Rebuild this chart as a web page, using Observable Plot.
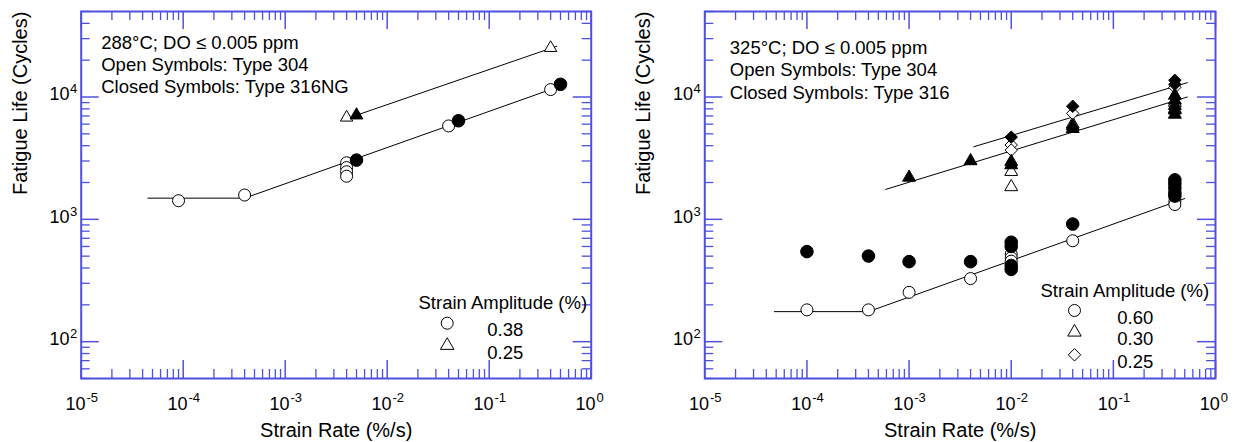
<!DOCTYPE html>
<html><head><meta charset="utf-8">
<script src="https://cdn.jsdelivr.net/npm/d3@7"></script>
<script src="https://cdn.jsdelivr.net/npm/@observablehq/plot@0.6"></script>
<style>
body{margin:0;background:#fff;}
#wrap{position:relative;width:1239px;height:442px;background:#fff;}
#left{position:absolute;left:0;top:0;}
#right{position:absolute;left:620px;top:0;}
</style></head><body><div id="wrap"><div id="left"></div><div id="right"></div></div>
<script>
// ---------- axis ticks ----------
const xTickValues = [1e-5, 1e-4, 1e-3, 1e-2, 1e-1, 1];
const xTickExps = ["-5", "-4", "-3", "-2", "-1", "0"];
const xMinorTicks = [2e-5,3e-5,4e-5,5e-5,6e-5,7e-5,8e-5,9e-5,
  2e-4,3e-4,4e-4,5e-4,6e-4,7e-4,8e-4,9e-4,
  2e-3,3e-3,4e-3,5e-3,6e-3,7e-3,8e-3,9e-3,
  2e-2,3e-2,4e-2,5e-2,6e-2,7e-2,8e-2,9e-2,
  0.2,0.3,0.4,0.5,0.6,0.7,0.8,0.9];
const yTickValues = [100, 1000, 10000];
const yTickExps = ["2", "3", "4"];
const yMinorTicks = [50,60,70,80,90,200,300,400,500,600,700,800,900,
  2000,3000,4000,5000,6000,7000,8000,9000,20000,30000,40000,50000];
const xTitle = "Strain Rate (%/s)";
const yTitle = "Fatigue Life (Cycles)";
const legendTitle = "Strain Amplitude (%)";

// ---------- left panel (288°C) ----------
const leftNotes = ["288°C; DO ≤ 0.005 ppm", "Open Symbols: Type 304", "Closed Symbols: Type 316NG"];
const leftOpenCircle = [[9e-5,1420],[4e-4,1580],[4e-3,2900],[4e-3,2650],[4e-3,2450],[4e-3,2250],[0.04,5800],[0.4,11500]];
const leftClosedCircle = [[5e-3,3050],[0.05,6400],[0.5,12700]];
const leftOpenTriangle = [[4e-3,6800],[0.4,25200]];
const leftClosedTriangle = [[5e-3,7100]];
const leftLineCircle = [[4.5e-5,1490],[4e-4,1490],[0.5,12300]];
const leftLineTriangle = [[5e-3,7100],[0.46,26000]];
const leftLegendLabels = ["0.38", "0.25"];

// ---------- right panel (325°C) ----------
const rightNotes = ["325°C; DO ≤ 0.005 ppm", "Open Symbols: Type 304", "Closed Symbols: Type 316"];
const rightOpenCircle = [[1e-4,182],[4e-4,182],[1e-3,253],[4e-3,328],[1e-2,520],[1e-2,485],[1e-2,455],[0.04,668],[0.4,1400],[0.4,1320]];
const rightClosedCircle = [[1e-4,545],[4e-4,501],[1e-3,451],[4e-3,451],[1e-2,650],[1e-2,600],[1e-2,420],[1e-2,390],[0.04,915],[0.4,2100],[0.4,1950],[0.4,1800],[0.4,1650],[0.4,1550]];
const rightOpenTriangle = [[1e-2,2450],[1e-2,1840],[0.04,6000],[0.4,9000],[0.4,8000]];
const rightClosedTriangle = [[1e-3,2200],[4e-3,3000],[1e-2,2960],[1e-2,2780],[0.04,5500],[0.04,5800],[0.4,10300],[0.4,9400],[0.4,8500],[0.4,7800],[0.4,7200]];
const rightOpenDiamond = [[1e-2,4050],[1e-2,3680],[0.04,7350],[0.4,12000]];
const rightClosedDiamond = [[1e-2,4700],[0.04,8400],[0.4,13700],[0.4,12700]];
const rightLineCircle = [[4.8e-5,176],[4e-4,176],[0.5,1480]];
const rightLineTriangle = [[5.9e-4,1757],[0.53,10000]];
const rightLineDiamond = [[4.3e-3,3920],[0.53,13100]];
const rightLegendLabels = ["0.60", "0.30", "0.25"];

// ---------- styling ----------
const BLUE = "#5050e0";
const FONT = "Liberation Sans, Arial, Helvetica, sans-serif";
const HEIGHT = 442, MT = 11, MB = 64;

function panel(cfg) {
  const W = cfg.width - cfg.marginLeft - cfg.marginRight;
  const H = HEIGHT - MT - MB;
  const X = d => d[0], Y = d => d[1];
  const open = {x: X, y: Y, fill: "white", stroke: "black", strokeWidth: 1};
  const closed = {x: X, y: Y, fill: "black", stroke: "black", strokeWidth: 1};
  const marks = [
    // ticks: bottom/top
    Plot.ruleX(xTickValues, {x: d => d, insetTop: H - 18, stroke: BLUE, strokeWidth: 1.5}),
    Plot.ruleX(xTickValues, {x: d => d, insetBottom: H - 18, stroke: BLUE, strokeWidth: 1.5}),
    Plot.ruleX(xMinorTicks, {x: d => d, insetTop: H - 9, stroke: BLUE, strokeWidth: 1.3}),
    Plot.ruleX(xMinorTicks, {x: d => d, insetBottom: H - 9, stroke: BLUE, strokeWidth: 1.3}),
    // ticks: left/right
    Plot.ruleY(yTickValues, {y: d => d, insetRight: W - 18, stroke: BLUE, strokeWidth: 1.5}),
    Plot.ruleY(yTickValues, {y: d => d, insetLeft: W - 18, stroke: BLUE, strokeWidth: 1.5}),
    Plot.ruleY(yMinorTicks, {y: d => d, insetRight: W - 9, stroke: BLUE, strokeWidth: 1.3}),
    Plot.ruleY(yMinorTicks, {y: d => d, insetLeft: W - 9, stroke: BLUE, strokeWidth: 1.3}),
    Plot.frame({stroke: BLUE, strokeWidth: 2}),
    // tick labels
    Plot.text(xTickValues, {x: d => d, frameAnchor: "bottom", text: () => "10", dx: -5.7, dy: 31.7, fontSize: 18, lineAnchor: "bottom"}),
    Plot.text(xTickValues, {x: d => d, frameAnchor: "bottom", text: (d, i) => xTickExps[i], dx: 5.2, dy: 23.4, fontSize: 13, textAnchor: "start", lineAnchor: "bottom"}),
    Plot.text(yTickValues, {y: d => d, frameAnchor: "left", text: () => "10", dx: -11.7, dy: 3.3, fontSize: 18, textAnchor: "end", lineAnchor: "bottom"}),
    Plot.text(yTickValues, {y: d => d, frameAnchor: "left", text: (d, i) => yTickExps[i], dx: -11.2, dy: -3.6, fontSize: 13, textAnchor: "start", lineAnchor: "bottom"}),
    // axis titles
    Plot.text([xTitle], {text: d => d, frameAnchor: "bottom", dy: 58.7, fontSize: 20, lineAnchor: "bottom"}),
    Plot.text([yTitle], {text: d => d, frameAnchor: "left", dx: -61, rotate: -90, fontSize: 20}),
    // notes
    Plot.text([cfg.notes.join("\n")], {text: d => d, frameAnchor: "top-left", dx: cfg.noteDx, dy: cfg.noteDy, textAnchor: "start", lineAnchor: "top", lineHeight: cfg.noteLH, fontSize: 18.5}),
    // fit lines
    ...cfg.lines.map(l => Plot.line(l, {x: X, y: Y, stroke: "black", strokeWidth: 1})),
    // data
    ...cfg.openMarks.map(([data, symbol, r]) => Plot.dot(data, {...open, symbol, r})),
    ...cfg.closedMarks.map(([data, symbol, r]) => Plot.dot(data, {...closed, symbol, r})),
    // legend
    Plot.text([legendTitle], {text: d => d, frameAnchor: "top-left", dx: cfg.leg.titleDx, dy: cfg.leg.titleDy, textAnchor: "start", fontSize: 18.5}),
    ...cfg.leg.items.map((it, i) => Plot.dot([0], {frameAnchor: "top-left", dx: cfg.leg.symDx, dy: cfg.leg.rowDy[i], symbol: it[0], r: it[1], fill: "white", stroke: "black", strokeWidth: 1})),
    ...cfg.leg.labels.map((t, i) => Plot.text([t], {text: d => d, frameAnchor: "top-left", dx: cfg.leg.textDx, dy: cfg.leg.rowDy[i], textAnchor: "start", fontSize: 18.5}))
  ];
  return Plot.plot({
    width: cfg.width, height: HEIGHT,
    marginLeft: cfg.marginLeft, marginRight: cfg.marginRight, marginTop: MT, marginBottom: MB,
    x: {type: "log", domain: [1e-5, 1], axis: null},
    y: {type: "log", domain: [50, 50000], axis: null},
    style: {fontFamily: FONT, fontSize: "18px", color: "black", background: "white", overflow: "visible"},
    marks
  });
}

document.getElementById("left").appendChild(panel({
  width: 620, marginLeft: 80.7, marginRight: 29.3,
  notes: leftNotes, noteDx: 20, noteDy: 21.6, noteLH: 1.19,
  lines: [leftLineCircle, leftLineTriangle],
  openMarks: [[leftOpenCircle, "circle", 6], [leftOpenTriangle, "triangle", 4.6]],
  closedMarks: [[leftClosedCircle, "circle", 6.3], [leftClosedTriangle, "triangle", 4.8]],
  leg: {titleDx: 337.3, titleDy: 284, symDx: 366, textDx: 406, rowDy: [311.7, 334],
        items: [["circle", 6], ["triangle", 5]], labels: leftLegendLabels}
}));

document.getElementById("right").appendChild(panel({
  width: 619, marginLeft: 84.3, marginRight: 24,
  notes: rightNotes, noteDx: 25, noteDy: 26.3, noteLH: 1.216,
  lines: [rightLineCircle, rightLineTriangle, rightLineDiamond],
  openMarks: [[rightOpenCircle, "circle", 6], [rightOpenTriangle, "triangle", 4.8], [rightOpenDiamond, "diamond2", 5.6]],
  closedMarks: [[rightClosedCircle, "circle", 6.3], [rightClosedTriangle, "triangle", 4.8], [rightClosedDiamond, "diamond2", 5.6]],
  leg: {titleDx: 335.7, titleDy: 272.3, symDx: 369.7, textDx: 412.4, rowDy: [299, 320.7, 343.3],
        items: [["circle", 6], ["triangle", 5], ["diamond2", 5.6]], labels: rightLegendLabels}
}));
</script></body></html>
